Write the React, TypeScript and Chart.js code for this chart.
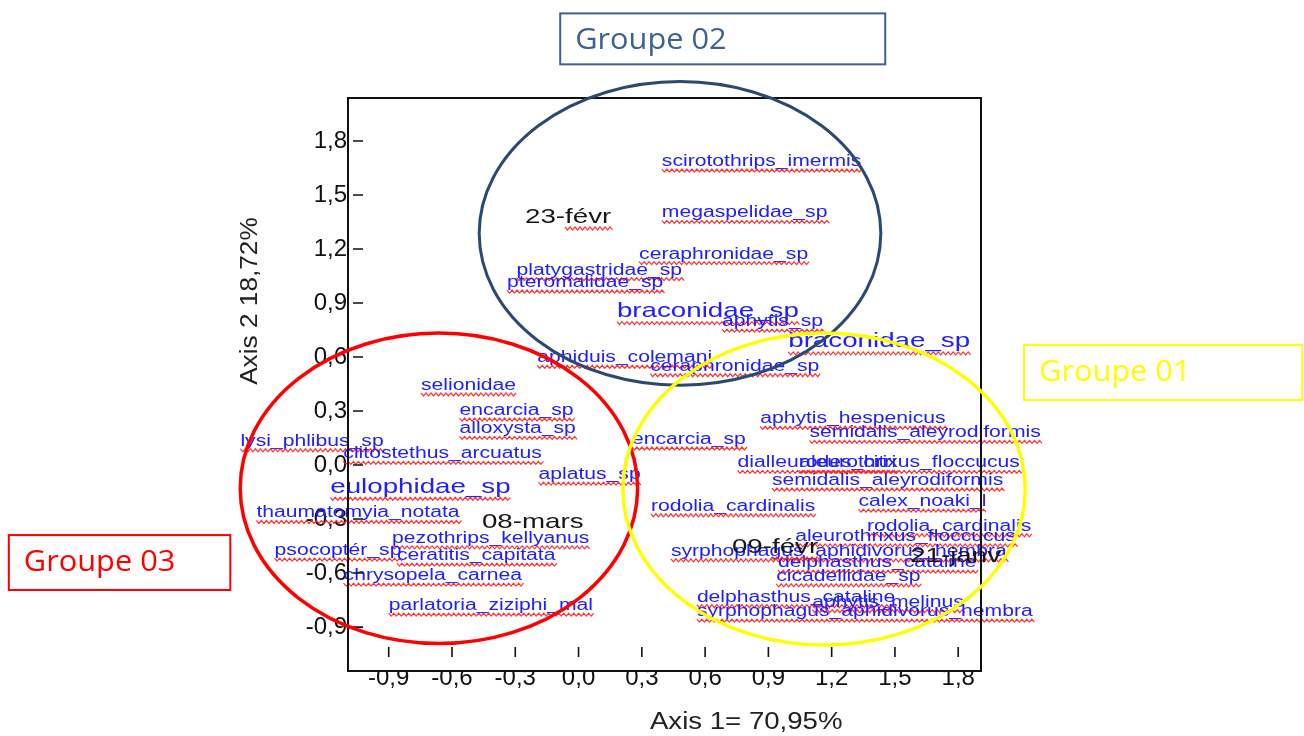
import React, { useEffect, useRef } from "react";
import { Chart, registerables } from "chart.js";

Chart.register(...registerables);

// ---------- axis ticks ----------
const xTickValues = [-0.9, -0.6, -0.3, 0, 0.3, 0.6, 0.9, 1.2, 1.5, 1.8];
const xTickLabels = ["-0,9", "-0,6", "-0,3", "0,0", "0,3", "0,6", "0,9", "1,2", "1,5", "1,8"];
const yTickValues = [-0.9, -0.6, -0.3, 0, 0.3, 0.6, 0.9, 1.2, 1.5, 1.8];
const yTickLabels = ["-0,9", "-0,6", "-0,3", "0,0", "0,3", "0,6", "0,9", "1,2", "1,5", "1,8"];
const X_MIN = -1.093;
const X_MAX = 1.908;
const Y_MIN = -1.144;
const Y_MAX = 2.039;

const xTitle = "Axis 1= 70,95%";
const yTitle = "Axis 2 18,72%";

// ---------- species (variables) ----------
const group1Names = [
  "aphytis_hespenicus", "semidalis_aleyrodiformis", "encarcia_sp", "dialleurodes_citri",
  "aleurothrixus_floccucus", "semidalis_aleyrodiformis", "calex_noaki_l", "rodolia_cardinalis",
  "rodolia_cardinalis", "aleurothrixus_floccucus", "syrphophagus_aphidivorus_hembra",
  "delphasthus_cataline", "cicadellidae_sp", "delphasthus_cataline", "aphytis_melinus",
  "syrphophagus_aphidivorus_hembra",
];
const group1X = [0.861, 1.095, 0.253, 0.754, 1.046, 0.917, 1.327, 0.343, 1.367, 1.027, 0.438, 0.946, 0.937, 0.561, 1.108, 0.561];
const group1Y = [0.232, 0.154, 0.117, -0.013, -0.013, -0.111, -0.228, -0.254, -0.365, -0.421, -0.504, -0.567, -0.643, -0.759, -0.787, -0.839];

const group2Names = [
  "scirotothrips_imermis", "megaspelidae_sp", "ceraphronidae_sp", "platygastridae_sp",
  "pteromalidae_sp", "braconidae_sp", "aphytis_sp", "braconidae_sp", "aphiduis_colemani",
  "ceraphronidae_sp",
];
const group2X = [0.395, 0.395, 0.287, -0.294, -0.339, 0.182, 0.68, 0.994, -0.196, 0.34];
const group2Y = [1.661, 1.376, 1.147, 1.058, 0.989, 0.822, 0.772, 0.654, 0.571, 0.524];

const group3Names = [
  "selionidae", "encarcia_sp", "alloxysta_sp", "lysi_phlibus_sp", "clitostethus_arcuatus",
  "aplatus_sp", "eulophidae_sp", "thaumatomyia_notata", "pezothrips_kellyanus", "psocoptér_sp",
  "ceratitis_capitata", "chrysopela_carnea", "parlatoria_ziziphi_mal",
];
const group3X = [-0.747, -0.564, -0.564, -1.603, -1.115, -0.19, -1.177, -1.527, -0.884, -1.441, -0.861, -1.114, -0.9];
const group3Y = [0.417, 0.278, 0.176, 0.107, 0.037, -0.078, -0.154, -0.291, -0.432, -0.5, -0.528, -0.639, -0.806];

const largeNames = ["braconidae_sp", "eulophidae_sp"];

// ---------- dates (observations) ----------
const dateNames = ["23-févr", "08-mars", "09-févr", "21-janv"];
const dateX = [-0.254, -0.458, 0.727, 1.572];
const dateY = [1.342, -0.352, -0.491, -0.539];

// ---------- groups (ellipses + boxes) ----------
const groupNames = ["Groupe 01", "Groupe 02", "Groupe 03"];
const groupColors = ["#ffff00", "#2a4a72", "#ff0000"];
const groupBoxColors = ["#ffff00", "#3f6192", "#ff0000"];
const ellipseCX = [1.164, 0.481, -0.662];
const ellipseCY = [-0.133, 1.287, -0.129];
const ellipseRX = [0.954, 0.952, 0.942];
const ellipseRY = [0.867, 0.843, 0.862];
const boxX1 = [2.112, -0.087, -2.701];
const boxX2 = [3.431, 1.454, -1.651];
const boxYTop = [0.667, 2.509, -0.389];
const boxYBottom = [0.361, 2.226, -0.694];

const SANS = '"Liberation Sans", Arial, sans-serif';
const LABEL_BLUE = "#2020ff";
const SX = 1.32;

function drawText(
  ctx: CanvasRenderingContext2D,
  text: string,
  x: number,
  y: number,
  font: string,
  color: string,
  sx: number,
  align: "left" | "center" = "left"
): number {
  ctx.save();
  ctx.font = font;
  ctx.fillStyle = color;
  ctx.textAlign = "left";
  ctx.textBaseline = "alphabetic";
  const w = ctx.measureText(text).width * sx;
  const x0 = align === "center" ? x - w / 2 : x;
  ctx.translate(x0, y);
  ctx.scale(sx, 1);
  ctx.fillText(text, 0, 0);
  ctx.restore();
  return w;
}

function drawSquiggle(ctx: CanvasRenderingContext2D, x0: number, x1: number, y: number) {
  ctx.save();
  ctx.strokeStyle = "rgba(255,30,30,0.9)";
  ctx.lineWidth = 1.2;
  ctx.beginPath();
  let i = 0;
  for (let x = x0; x <= x1; x += 2.5, i++) {
    const yy = y + (i % 2 === 0 ? -1.5 : 1.5);
    if (i === 0) ctx.moveTo(x, yy);
    else ctx.lineTo(x, yy);
  }
  ctx.stroke();
  ctx.restore();
}

const overlayPlugin = {
  id: "overlay",
  afterDraw(chart: any) {
    const ctx: CanvasRenderingContext2D = chart.ctx;
    const xs = chart.scales.x;
    const ys = chart.scales.y;
    const area = chart.chartArea;
    const px = (v: number) => xs.getPixelForValue(v);
    const py = (v: number) => ys.getPixelForValue(v);

    // species labels
    const groups: [string[], number[], number[]][] = [
      [group2Names, group2X, group2Y],
      [group3Names, group3X, group3Y],
      [group1Names, group1X, group1Y],
    ];
    for (const [names, xsv, ysv] of groups) {
      names.forEach((name, i) => {
        const big = largeNames.includes(name);
        const size = big ? 21 : 16;
        const x = px(xsv[i]);
        const y = py(ysv[i]);
        const w = drawText(ctx, name, x, y, `${size}px ${SANS}`, LABEL_BLUE, SX);
        drawSquiggle(ctx, x, x + w + 2, y + (big ? 6 : 4.5));
      });
    }

    // date labels
    dateNames.forEach((name, i) => {
      const x = px(dateX[i]);
      const y = py(dateY[i]);
      const font = `21px ${SANS}`;
      const w = drawText(ctx, name, x, y, font, "#161616", SX);
      const dash = name.indexOf("févr");
      if (dash > 0) {
        ctx.save();
        ctx.font = font;
        const pre = ctx.measureText(name.slice(0, dash)).width * SX;
        ctx.restore();
        drawSquiggle(ctx, x + pre, x + w + 2, y + 5);
      }
    });

    // frame
    ctx.save();
    ctx.strokeStyle = "#111";
    ctx.lineWidth = 2;
    ctx.strokeRect(area.left, area.top, area.right - area.left, area.bottom - area.top);
    // tick marks (inside the frame)
    ctx.lineWidth = 1.6;
    ctx.beginPath();
    yTickValues.forEach((v) => {
      const y = py(v);
      ctx.moveTo(area.left + 5, y);
      ctx.lineTo(area.left + 15, y);
    });
    xTickValues.forEach((v) => {
      const x = px(v);
      ctx.moveTo(x, area.bottom - 24);
      ctx.lineTo(x, area.bottom - 14);
    });
    ctx.stroke();
    ctx.restore();

    // ellipses
    const order = [1, 2, 0];
    order.forEach((g) => {
      const cx = px(ellipseCX[g]);
      const cy = py(ellipseCY[g]);
      const rx = Math.abs(px(ellipseCX[g] + ellipseRX[g]) - cx);
      const ry = Math.abs(py(ellipseCY[g] + ellipseRY[g]) - cy);
      ctx.save();
      ctx.strokeStyle = groupColors[g];
      ctx.lineWidth = g === 1 ? 3 : 3.5;
      ctx.beginPath();
      ctx.ellipse(cx, cy, rx, ry, 0, 0, Math.PI * 2);
      ctx.stroke();
      ctx.restore();
    });

    // group boxes
    groupNames.forEach((name, g) => {
      const x1 = px(boxX1[g]);
      const x2 = px(boxX2[g]);
      const y1 = py(boxYTop[g]);
      const y2 = py(boxYBottom[g]);
      ctx.save();
      ctx.fillStyle = "#ffffff";
      ctx.fillRect(x1, y1, x2 - x1, y2 - y1);
      ctx.strokeStyle = groupBoxColors[g];
      ctx.lineWidth = 2;
      ctx.strokeRect(x1, y1, x2 - x1, y2 - y1);
      ctx.restore();
      drawText(ctx, name, x1 + 15, y1 + 36, `29px "Open Sans", sans-serif`, groupBoxColors[g], 1.06);
    });

    // axis titles
    drawText(ctx, xTitle, px(0.795), py(-1.468), `23px ${SANS}`, "#222", 1.2, "center");
    ctx.save();
    ctx.translate(px(-1.524), py(0.911));
    ctx.rotate(-Math.PI / 2);
    drawText(ctx, yTitle, 0, 0, `23px ${SANS}`, "#222", 1.14, "center");
    ctx.restore();
  },
};

export default function App() {
  const canvasRef = useRef<HTMLCanvasElement | null>(null);

  useEffect(() => {
    document.body.style.margin = "0";
    document.body.style.overflow = "hidden";
    const canvas = canvasRef.current;
    if (!canvas) return;
    const toPoints = (xa: number[], ya: number[]) => xa.map((x, i) => ({ x, y: ya[i] }));
    const tickFont = { family: SANS, size: 24 };
    const chart = new Chart(canvas, {
      type: "scatter",
      data: {
        datasets: [
          { label: groupNames[0], data: toPoints(group1X, group1Y), pointRadius: 0 },
          { label: groupNames[1], data: toPoints(group2X, group2Y), pointRadius: 0 },
          { label: groupNames[2], data: toPoints(group3X, group3Y), pointRadius: 0 },
          { label: "dates", data: toPoints(dateX, dateY), pointRadius: 0 },
        ],
      },
      options: {
        animation: false,
        responsive: false,
        devicePixelRatio: 1,
        events: [],
        layout: { padding: { left: 248, right: 323, top: 98, bottom: 25 } },
        plugins: { legend: { display: false }, tooltip: { enabled: false } },
        scales: {
          x: {
            type: "linear",
            min: X_MIN,
            max: X_MAX,
            afterBuildTicks: (s: any) => {
              s.ticks = xTickValues.map((v) => ({ value: v }));
            },
            afterFit: (s: any) => {
              s.height = 40;
            },
            ticks: {
              autoSkip: false,
              maxRotation: 0,
              minRotation: 0,
              padding: -7,
              color: "#111",
              font: tickFont,
              callback: (_v: any, i: number) => xTickLabels[i] ?? "",
            },
            grid: { display: false, drawTicks: false },
            border: { display: false },
          },
          y: {
            type: "linear",
            min: Y_MIN,
            max: Y_MAX,
            afterBuildTicks: (s: any) => {
              s.ticks = yTickValues.map((v) => ({ value: v }));
            },
            afterFit: (s: any) => {
              s.width = 100;
            },
            ticks: {
              autoSkip: false,
              padding: 1,
              color: "#111",
              font: tickFont,
              callback: (_v: any, i: number) => yTickLabels[i] ?? "",
            },
            grid: { display: false, drawTicks: false },
            border: { display: false },
          },
        },
      },
      plugins: [overlayPlugin],
    } as any);
    return () => chart.destroy();
  }, []);

  return (
    <canvas
      ref={canvasRef}
      width={1304}
      height={736}
      style={{ display: "block", width: 1304, height: 736 }}
    />
  );
}
